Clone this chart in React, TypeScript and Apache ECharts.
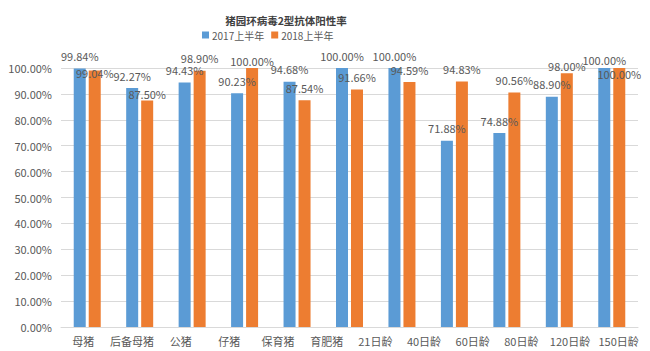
import React, { useEffect, useRef } from "react";
import * as echarts from "echarts";

// Tick labels shown under the axis (12 in the picture)
const tickLabels = ["母猪", "后备母猪", "公猪", "仔猪", "保育猪", "育肥猪", "21日龄", "40日龄", "60日龄", "80日龄", "120日龄", "150日龄"];
// Bar groups drawn in the picture (11 groups)
const barGroups = ["g1", "g2", "g3", "g4", "g5", "g6", "g7", "g8", "g9", "g10", "g11"];
const series2017 = [99.84, 92.27, 94.43, 90.23, 94.68, 100.0, 100.0, 71.88, 74.88, 88.9, 100.0];
const series2018 = [99.04, 87.5, 98.9, 100.0, 87.54, 91.66, 94.59, 94.83, 90.56, 98.0, 100.0];
const seriesNames = ["2017上半年", "2018上半年"];
const titleText = "猪园环病毒2型抗体阳性率";

const FONT = "'Noto Sans CJK SC', 'Noto Sans', sans-serif";

export default function App() {
  const ref = useRef<HTMLDivElement>(null);
  useEffect(() => {
    if (!ref.current) return;
    const chart = echarts.init(ref.current, null, { renderer: "svg" });
    const labelAdj2017: Record<number, number> = { 10: 4 };
    const labelAdj2018: Record<number, number> = { 0: 15, 1: 6, 3: 5, 9: 5, 10: 18 };
    const mk = (vals: number[], adj: Record<number, number>) =>
      vals.map((v, i) =>
        adj[i] !== undefined ? { value: v, label: { offset: [0, adj[i]] } } : v
      );
    const labelStyle = {
      show: true,
      position: "top" as const,
      distance: 7,
      color: "#595959",
      fontSize: 11,
      fontFamily: FONT,
      formatter: (p: any) => Number(p.value).toFixed(2) + "%",
    };
    chart.setOption({
      animation: false,
      backgroundColor: "#ffffff",
      title: {
        text: titleText,
        left: 281,
        top: 10,
        textAlign: "center",
        textStyle: { fontSize: 10.5, fontWeight: "bold", color: "#404040", fontFamily: FONT },
      },
      legend: {
        data: seriesNames,
        left: 202,
        top: 30,
        padding: 0,
        itemWidth: 7,
        itemHeight: 7,
        itemGap: 7,
        icon: "rect",
        textStyle: { fontSize: 10, color: "#595959", fontFamily: FONT, padding: [0, 0, 0, -2] },
      },
      grid: [
        { left: 61, right: 12, top: 68, bottom: 24, containLabel: false },
        { left: 59, right: 7, top: 68, bottom: 24, containLabel: false },
      ],
      xAxis: [
        {
          type: "category",
          gridIndex: 0,
          data: barGroups,
          axisLine: { lineStyle: { color: "#d9d9d9" } },
          axisTick: { show: false },
          axisLabel: { show: false },
        },
        {
          type: "category",
          gridIndex: 1,
          data: tickLabels,
          axisLine: { show: false },
          axisTick: { show: false },
          axisLabel: { color: "#595959", fontSize: 11, fontFamily: FONT, margin: 8, interval: 0 },
        },
      ],
      yAxis: [
        {
          type: "value",
          gridIndex: 0,
          min: 0,
          max: 100,
          interval: 10,
          axisLine: { show: false },
          axisTick: { show: false },
          splitLine: { lineStyle: { color: "#d9d9d9" } },
          axisLabel: {
            color: "#595959",
            fontSize: 11,
            fontFamily: FONT,
            margin: 9,
            formatter: (v: number) => v.toFixed(2) + "%",
          },
        },
        {
          type: "value",
          gridIndex: 1,
          min: 0,
          max: 100,
          show: false,
          splitLine: { show: false },
        },
      ],
      series: [
        {
          name: seriesNames[0],
          type: "bar",
          xAxisIndex: 0,
          yAxisIndex: 0,
          data: mk(series2017, labelAdj2017),
          barWidth: 12,
          barGap: "25%",
          itemStyle: { color: "#5b9bd5" },
          label: labelStyle,
        },
        {
          name: seriesNames[1],
          type: "bar",
          xAxisIndex: 0,
          yAxisIndex: 0,
          data: mk(series2018, labelAdj2018),
          barWidth: 12,
          itemStyle: { color: "#ed7d31" },
          label: labelStyle,
        },
      ],
    });
    return () => chart.dispose();
  }, []);
  return <div ref={ref} style={{ width: 650, height: 351, position: "absolute", left: 0, top: 0 }} />;
}
